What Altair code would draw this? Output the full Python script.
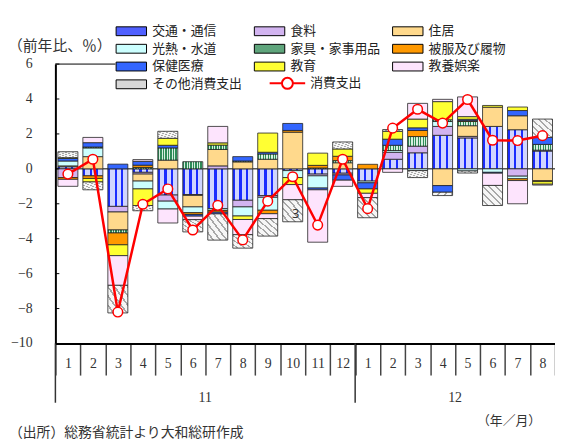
import altair as alt
import pandas as pd

# ---------------- data ----------------
months = [str(m) for m in range(1, 13)] + [str(m) for m in range(1, 9)]
years = ["11"] * 12 + ["12"] * 8
keys = [f"{y}/{m}" for y, m in zip(years, months)]

categories = ["交通・通信", "食料", "住居", "光熱・水道", "家具・家事用品",
              "被服及び履物", "保健医療", "教育", "教養娯楽", "その他消費支出"]

transport = [0.12, -0.4, -2.15, -0.2, -1.5, -1.47, -2.28, -1.8, -1.53, -0.1,
             -0.3, -0.25, -0.7, 0.55, 0.92, 1.92, 1.77, 2.43, 2.24, 1.02]
food = [-0.5, 0, -0.32, -0.1, -0.35, -0.05, 0.17, -0.38, -0.1, 0,
        -0.1, -0.1, 0, 0.4, 0.38, 0.51, 0.09, 0, -0.42, 0.05]
housing = [0.05, 0.7, -1.03, -0.4, 0.5, -0.66, 0.94, 0.4, 0.55, 2.1,
           0, 0.35, 0, 0, 0, -0.96, 0.61, 1.1, 0.8, -0.68]
utilities = [0.28, 0.5, 0, -0.45, -0.45, -0.33, -0.1, -0.52, -0.74, -0.4,
             -0.7, 0, -0.1, 0.1, -0.1, 0.28, -0.12, -0.2, -0.15, 0]
furniture = [0, 0.05, -0.17, 0.08, 0.7, 0.41, 0.25, 0.05, 0.3, 0,
             0.05, 0.12, 0, 0.3, 0.55, 0.1, 0.24, 0, 0, 0.33]
clothing = [-0.1, -0.15, -0.68, 0.13, 0, -0.1, -0.1, 0, -0.2, 0.1,
            0.15, 0.25, 0.26, 0, 0.35, 0, 0.05, 0, -0.1, -0.05]
health = [0.15, 0.25, 0.27, 0.22, 0.15, -0.1, -0.1, 0.25, 0.1, 0.4,
          -0.1, -0.3, -0.35, 0.35, 0.15, -0.38, 0.08, -0.05, 0.3, 0.4]
education = [0.04, -0.2, -0.62, -0.95, 0.4, 0, 0.13, -0.2, 1.1, -0.4,
             0.7, 0.42, -0.25, 0.45, 0.5, 1.04, 0.15, 0.1, 0.2, -0.15]
recreation = [-0.4, 0.3, -1.7, 0.1, -0.8, -0.2, 0.94, -0.87, -0.28, -0.87,
              -3.0, -0.35, -0.25, -0.2, 0.9, 0.13, 1.13, -0.7, -1.33, -0.05]
other = [0.34, -0.45, -1.58, -0.3, 0.4, -0.7, -1.5, -0.77, -1.0, -1.26,
         0, 0.4, -1.15, 0.1, -0.4, -0.19, -0.12, -1.15, 0, 1.05]
total = [-0.3, 0.55, -8.2, -2.03, -1.15, -3.5, -2.09, -4.07, -1.85, -0.45,
         -3.22, 0.55, -2.28, 2.33, 3.41, 2.62, 3.97, 1.64, 1.62, 1.9]

y_ticks = [-10, -8, -6, -4, -2, 0, 2, 4, 6]

series = [transport, food, housing, utilities, furniture,
          clothing, health, education, recreation, other]

colors = ["#5060ff", "#d2b4f0", "#ffd98c", "#ccffff", "#5fa57c",
          "#ff9900", "#3366ff", "#ffff33", "#fde4fd", "#d8d8d8"]

rows = []
for i, (cat, vals) in enumerate(zip(categories, series)):
    for k, v in zip(keys, vals):
        rows.append({"key": k, "cat": cat, "order": i, "value": v})
df = pd.DataFrame(rows)
line_df = pd.DataFrame({"key": keys, "value": total, "series": "消費支出"})
year_df = pd.DataFrame({"key": ["11/7", "12/5"], "label": ["11", "12"]})
sep_df = pd.DataFrame({"key": ["11/1", "12/1"]})
ytick_df = pd.DataFrame({"v": y_ticks, "lab": [str(t).replace("-", "−") for t in y_ticks]})
one = pd.DataFrame({"d": [0]})


# ---------------- pattern-like gradient fills ----------------
def stripes(c1, c2, n, on, x1=0, y1=0, x2=1, y2=0):
    stops = []
    step = 1.0 / n
    for i in range(n):
        a = i * step
        b = a + step * on
        c = a + step
        stops += [{"offset": round(a, 4), "color": c1}, {"offset": round(b, 4), "color": c1},
                  {"offset": round(b, 4), "color": c2}, {"offset": round(c, 4), "color": c2}]
    return {"gradient": "linear", "x1": x1, "y1": y1, "x2": x2, "y2": y2, "stops": stops}


grid_fill = stripes("#1a2cff", "#d0d5ff", 3, 0.32)
furn_fill = stripes("#2e8b57", "#d6eedf", 8, 0.5)
other_fill = stripes("#a8a8a8", "#f6f6f6", 6, 0.3, x1=1, y1=0, x2=0, y2=1)

fill_conditions = [
    {"test": "datum.cat === '交通・通信'", "value": grid_fill},
    {"test": "datum.cat === '家具・家事用品'", "value": furn_fill},
    {"test": "datum.cat === 'その他消費支出'", "value": other_fill},
]

# ---------------- chart ----------------
W, H = 506, 283
JP = "Noto Sans CJK JP"
NUM = "Liberation Serif"

xscale = alt.Scale(domain=keys, paddingInner=0, paddingOuter=0)
yscale = alt.Scale(domain=[-10, 6], nice=False, zero=False)

x_axis = alt.Axis(orient="bottom", title=None, labelExpr="split(datum.value,'/')[1]",
                  tickBand="extent", tickSize=32, tickColor="#444", tickWidth=1.5,
                  domainColor="#000", domainWidth=2, labelPadding=-19,
                  labelFont=NUM, labelFontSize=14, labelColor="#333", labelAngle=0,
                  grid=False)
y_axis = alt.Axis(title=None, orient="left", values=y_ticks, ticks=False, labels=False,
                  domainColor="#000", domainWidth=2, grid=False)

bar_legend = alt.Legend(title=None, orient="none", legendX=61, legendY=-41, columns=3,
                        direction="horizontal",
                        symbolType="M-1,-0.64L3.4,-0.64L3.4,0.64L-1,0.64Z",
                        symbolSize=196, symbolStrokeColor="#000", symbolStrokeWidth=1,
                        labelFont=JP, labelFontSize=13, labelColor="#222",
                        labelOffset=22, rowPadding=3, columnPadding=9,
                        fillColor="white", padding=0, labelLimit=300)

line_legend = alt.Legend(title=None, orient="none", legendX=216, legendY=11.5,
                         symbolType="M-1,0L0.78,0M2.36,0L4.14,0M0.78,0A0.79,0.79,0,1,1,2.36,0A0.79,0.79,0,1,1,0.78,0Z",
                         symbolSize=196, symbolStrokeWidth=2, symbolFillColor="white",
                         labelFont=JP, labelFontSize=13, labelColor="#222",
                         labelOffset=26, padding=0, labelLimit=300)

zero = alt.Chart(one).mark_rule(color="#000", strokeWidth=1).encode(
    y=alt.Y("d:Q", scale=yscale, axis=y_axis))

bars = alt.Chart(df).transform_filter("datum.value != 0").mark_bar(
    stroke="#222", strokeWidth=0.8, width=alt.RelativeBandSize(0.8)
).encode(
    x=alt.X("key:N", scale=xscale, axis=x_axis, sort=keys),
    y=alt.Y("value:Q", scale=yscale, axis=y_axis, stack="zero"),
    fill=alt.Fill("cat:N", scale=alt.Scale(domain=categories, range=colors),
                  legend=bar_legend, condition=fill_conditions),
    order=alt.Order("order:Q", sort="ascending"),
)

# y-axis labels and short inward ticks, positioned through the y scale
ylabels = alt.Chart(ytick_df).mark_text(font=NUM, fontSize=14, color="#333", align="right",
                                        baseline="middle").encode(
    y=alt.Y("v:Q", scale=yscale, axis=y_axis), x=alt.value(-23), text="lab:N")
yticks = alt.Chart(ytick_df).mark_rule(color="#000", strokeWidth=1).encode(
    y=alt.Y("v:Q", scale=yscale, axis=y_axis), x=alt.value(0), x2=alt.value(4))

top_rule = alt.Chart(one).mark_rule(color="#000", strokeWidth=1).encode(
    x=alt.value(0), x2=alt.value(61), y=alt.value(0))

line = alt.Chart(line_df).mark_line(strokeWidth=2.5).encode(
    x=alt.X("key:N", scale=xscale, sort=keys),
    y=alt.Y("value:Q", scale=yscale, axis=y_axis),
    stroke=alt.Stroke("series:N", scale=alt.Scale(domain=["消費支出"], range=["#ff0000"]),
                      legend=line_legend),
)
points = alt.Chart(line_df).mark_point(shape="circle", filled=True, fill="white",
                                       stroke="#ff0000", strokeWidth=1.5, size=95,
                                       opacity=1).encode(
    x=alt.X("key:N", scale=xscale, sort=keys),
    y=alt.Y("value:Q", scale=yscale, axis=y_axis),
)

three = alt.Chart(one).mark_text(font="Noto Sans", fontSize=13, color="#333", dx=3).encode(
    x=alt.X("k:N", scale=xscale), y=alt.Y("v:Q", scale=yscale, axis=y_axis),
    text=alt.value("3")
).transform_calculate(k="'11/10'", v="-2.6")

year_text = alt.Chart(year_df).mark_text(font=NUM, fontSize=14, color="#333",
                                         baseline="middle").encode(
    x=alt.X("key:N", scale=xscale, bandPosition=0), y=alt.value(338), text="label:N")

seps = alt.Chart(sep_df).mark_rule(color="#333", strokeWidth=1.5).encode(
    x=alt.X("key:N", scale=xscale, bandPosition=0), y=alt.value(283), y2=alt.value(343))

unit_txt = alt.Chart(one).mark_text(font=JP, fontSize=15, color="#333", align="left",
                                    baseline="middle").encode(
    x=alt.value(-48), y=alt.value(-18), text=alt.value("（前年比、％）"))
ym_txt = alt.Chart(one).mark_text(font=JP, fontSize=13, color="#333", align="left",
                                  baseline="middle").encode(
    x=alt.value(427), y=alt.value(362), text=alt.value("（年／月）"))
src_txt = alt.Chart(one).mark_text(font=JP, fontSize=14, color="#333", align="left",
                                   baseline="middle").encode(
    x=alt.value(-47), y=alt.value(374), text=alt.value("（出所）総務省統計より大和総研作成"))

chart = alt.layer(
    zero, bars, ylabels, yticks, top_rule, line, points, three, year_text, seps,
    unit_txt, ym_txt, src_txt
).properties(
    width=W, height=H,
    autosize=alt.AutoSizeParams(type="none"),
    padding={"left": 48, "top": 54, "right": 0, "bottom": 98},
).configure_view(stroke=None)

chart.save("out.html", embed_options={"renderer": "svg", "actions": False})
